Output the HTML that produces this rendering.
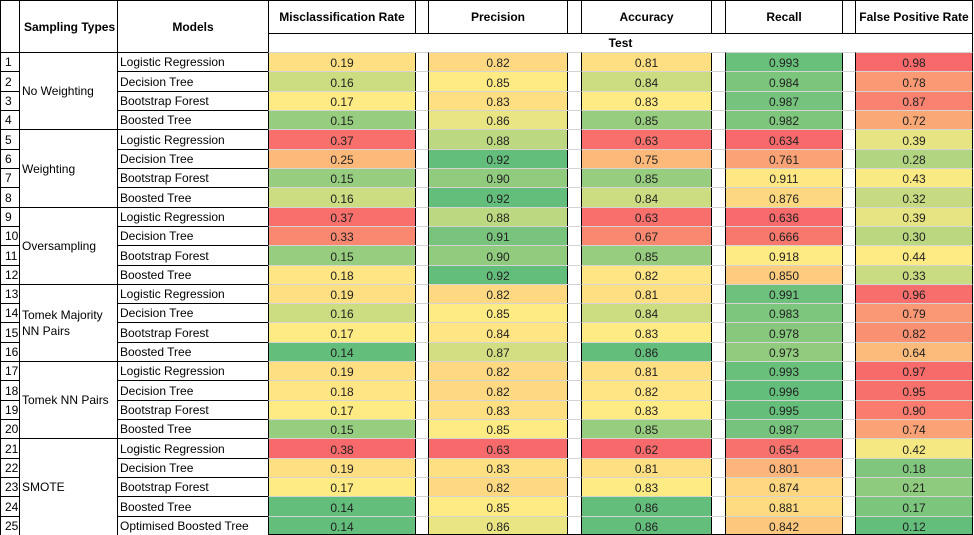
<!DOCTYPE html>
<html><head><meta charset="utf-8">
<style>
html,body{margin:0;padding:0;background:#fff;}
#t{position:relative;width:974px;height:535px;overflow:hidden;font-family:"Liberation Sans",Arial,sans-serif;font-size:12px;color:#000;}
.c{position:absolute;box-sizing:border-box;display:flex;align-items:center;white-space:nowrap;}
.b{font-weight:bold;}
</style></head><body>
<div id="t"></div>
<script>
const groups=["No Weighting","Weighting","Oversampling","Tomek Majority NN Pairs","Tomek NN Pairs","SMOTE"];
const groupSizes=[4,4,4,4,4,5];
const models=["Logistic Regression","Decision Tree","Bootstrap Forest","Boosted Tree","Logistic Regression","Decision Tree","Bootstrap Forest","Boosted Tree","Logistic Regression","Decision Tree","Bootstrap Forest","Boosted Tree","Logistic Regression","Decision Tree","Bootstrap Forest","Boosted Tree","Logistic Regression","Decision Tree","Bootstrap Forest","Boosted Tree","Logistic Regression","Decision Tree","Bootstrap Forest","Boosted Tree","Optimised Boosted Tree"];
const metricNames=["Misclassification Rate","Precision","Accuracy","Recall","False Positive Rate"];
const misclass=[.19,.16,.17,.15,.37,.25,.15,.16,.37,.33,.15,.18,.19,.16,.17,.14,.19,.18,.17,.15,.38,.19,.17,.14,.14];
const precision=[.82,.85,.83,.86,.88,.92,.90,.92,.88,.91,.90,.92,.82,.85,.84,.87,.82,.82,.83,.85,.63,.83,.82,.85,.86];
const accuracy=[.81,.84,.83,.85,.63,.75,.85,.84,.63,.67,.85,.82,.81,.84,.83,.86,.81,.82,.83,.85,.62,.81,.83,.86,.86];
const recall=[.993,.984,.987,.982,.634,.761,.911,.876,.636,.666,.918,.850,.991,.983,.978,.973,.993,.996,.995,.987,.654,.801,.874,.881,.842];
const fpr=[.98,.78,.87,.72,.39,.28,.43,.32,.39,.30,.44,.33,.96,.79,.82,.64,.97,.95,.90,.74,.42,.18,.21,.17,.12];
const decimals=[2,2,2,3,2];
const lowIsGood=[true,false,false,false,true];

const series=[misclass,precision,accuracy,recall,fpr];
const colX=[[268,415],[428,567],[581,711],[725,842],[855,972]];
const T=document.getElementById('t');
const RH=19.32, Y0=52;
function cell(x,y,w,h,txt,st){const d=document.createElement('div');d.className='c';
 d.style.left=x+'px';d.style.top=y+'px';d.style.width=w+'px';d.style.height=h+'px';
 if(txt!==undefined)d.textContent=txt;Object.assign(d.style,st||{});T.appendChild(d);return d;}
const BK='1px solid #000', GR='1px solid #d4d4d4';
let h;
h=cell(0,0,20,53,'',{border:BK});

h=cell(19,0,99,53,'Sampling Types',{border:BK,paddingLeft:'4px'});h.classList.add('b');

h=cell(117,0,152,53,'Models',{border:BK,justifyContent:'center'});h.classList.add('b');

metricNames.forEach((m,k)=>{const [a,b]=colX[k];
 const e=cell(a,0,b-a+1,34,m,{border:BK,justifyContent:'center'});e.classList.add('b');
 
 
 if(k<4){const g=cell(b,0,colX[k+1][0]-b+1,34,'',{border:BK});
 
 }
});
h=cell(268,33,705,20,'Test',{border:BK,justifyContent:'center'});h.classList.add('b');

function median(a){const s=[...a].sort((x,y)=>x-y);const n=s.length;return n%2?s[(n-1)/2]:(s[n/2-1]+s[n/2])/2;}
function mix(c1,c2,t){return 'rgb('+c1.map((v,i)=>Math.round(v+(c2[i]-v)*t)).join(',')+')';}
const RED=[248,105,107],YEL=[255,235,132],GRN=[99,190,123];
function color(v,arr,low){const mn=Math.min(...arr),mx=Math.max(...arr),md=median(arr);
 let lo=low?GRN:RED,hi=low?RED:GRN;
 if(v<=md)return mix(lo,YEL,md===mn?1:(v-mn)/(md-mn));
 return mix(YEL,hi,mx===md?1:(v-md)/(mx-md));}
let r0=0;
groups.forEach((g,gi)=>{const n=groupSizes[gi];const y=Y0+r0*RH;
 const e=cell(19,Math.round(y),99,Math.round(y+n*RH)-Math.round(y)+1,'',{border:BK,paddingLeft:'2px',paddingRight:'6px',whiteSpace:'normal',lineHeight:'16px'});
 e.textContent=g;
 
 
 r0+=n;});
models.forEach((m,i)=>{const y=Math.round(Y0+i*RH),hh=Math.round(Y0+(i+1)*RH)-y+1;
 const ix=cell(0,y,20,hh,String(i+1),{border:BK,paddingLeft:'4px'});
 
 
 const me=cell(117,y,152,hh,m,{border:BK,paddingLeft:'2px'});
 
 
 series.forEach((arr,k)=>{const [a,b]=colX[k];const v=arr[i];
  const c=cell(a,y,b-a+1,hh,v.toFixed(decimals[k]),{background:color(v,arr,lowIsGood[k]),borderLeft:BK,borderRight:BK,borderTop:GR,justifyContent:'center',color:'#222',paddingTop:'1px'});
  
  
  if(k<4){const g=cell(b,y,colX[k+1][0]-b+1,hh,'',{borderTop:GR});
  
  }
 });
});
const bl=cell(268,534,705,1,'',{background:'#000'});


</script>
</body></html>
